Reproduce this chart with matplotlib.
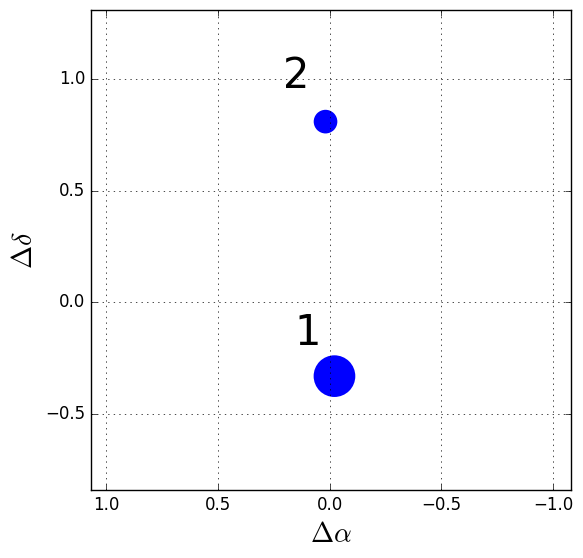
import numpy as np
import matplotlib
matplotlib.use("Agg")
import matplotlib.pyplot as plt

plt.style.use('classic')

# source positions (offsets) and labels
dalpha = [-0.022, 0.018]
ddelta = [-0.33, 0.81]
sizes = [900, 290]
labels = ['1', '2']
label_x = [0.157, 0.206]
label_y = [-0.19, 0.96]

fig = plt.figure(figsize=(5.83, 5.58), dpi=100, facecolor='white')
ax = fig.add_axes([91/583, 68/558, 480/583, 480/558])

ax.scatter(dalpha, ddelta, s=sizes, c='blue', edgecolors='none')
for lx, ly, t in zip(label_x, label_y, labels):
    ax.text(lx, ly, t, fontsize=30, ha='left', va='baseline')

ax.set_xlim(1.067, -1.08)
ax.set_ylim(-0.84, 1.31)
ax.set_xticks([1.0, 0.5, 0.0, -0.5, -1.0])
ax.set_yticks([-0.5, 0.0, 0.5, 1.0])
ax.grid(True)
ax.set_xlabel(r'$\Delta\alpha$', fontsize=20)
ax.set_ylabel(r'$\Delta\delta$', fontsize=20)

fig.savefig('out.png', dpi=100, facecolor='white')
